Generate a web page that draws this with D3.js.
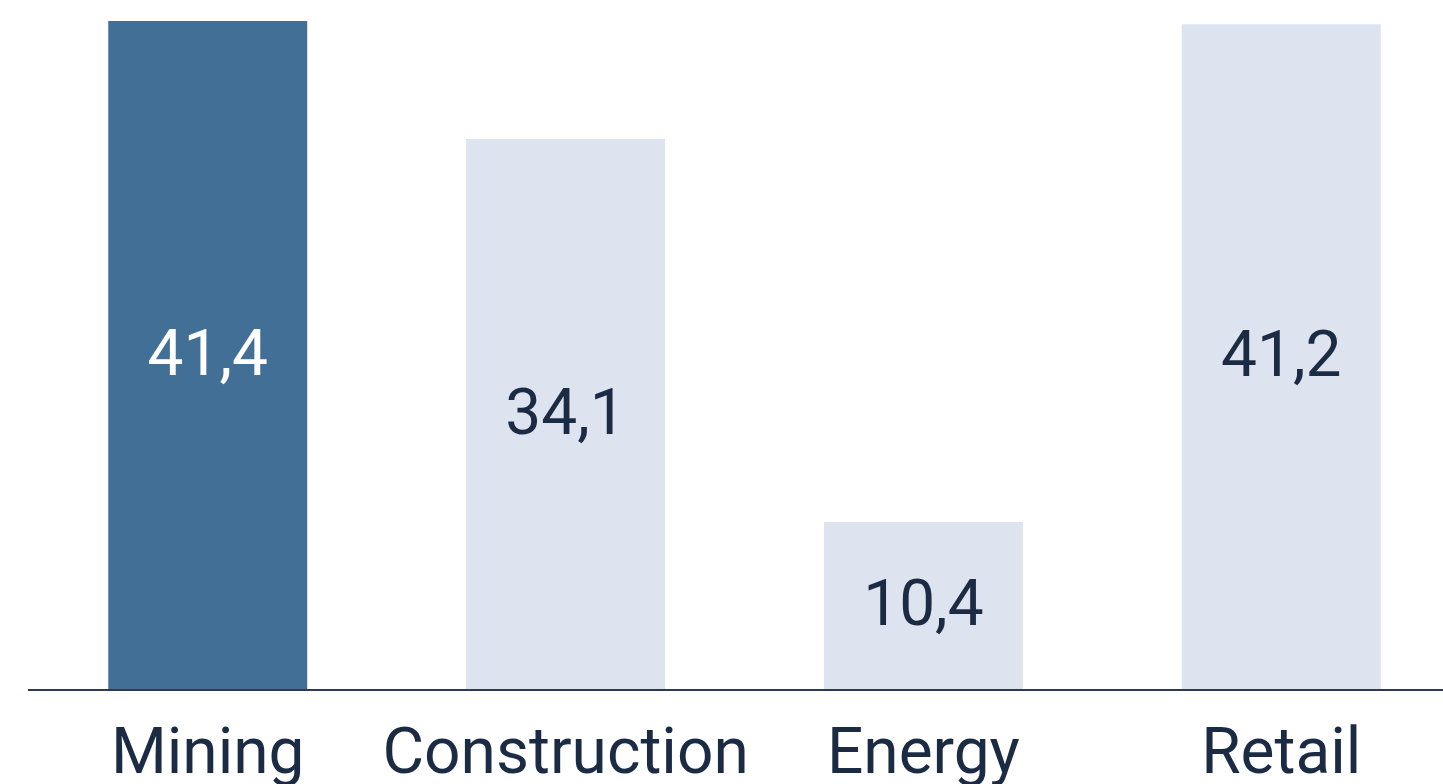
<!DOCTYPE html>
<html>
<head>
<meta charset="utf-8">
<script src="https://cdn.jsdelivr.net/npm/d3@7"></script>
<style>
  html, body { margin: 0; padding: 0; background: #fff; }
  svg { display: block; }
</style>
</head>
<body>
<div id="chart"></div>
<script>
let categories = ['Mining', 'Construction', 'Energy', 'Retail'];
let values = [41.4, 34.1, 10.4, 41.2];
let highlighted = ['Mining'];

let width = 1443, height = 784;
let margin = {top: 21, bottom: 94};
let baseline = height - margin.bottom;

let svg = d3.select('#chart').append('svg')
  .attr('width', width).attr('height', height);

let xScale = d3.scaleBand()
  .domain(categories)
  .range([51, 1438])
  .paddingInner(0.444)
  .paddingOuter(0.16);

let yScale = d3.scaleLinear()
  .domain([0, d3.max(values)])
  .range([baseline, margin.top]);

let fmt = v => d3.format('.1f')(v).replace('.', ',');

let data = categories.map((c, i) => ({cat: c, val: values[i]}));

let bars = svg.selectAll('.bar').data(data).enter()
  .append('g').attr('class', 'bar');

bars.append('rect')
  .attr('x', d => xScale(d.cat))
  .attr('y', d => yScale(d.val))
  .attr('width', xScale.bandwidth())
  .attr('height', d => baseline - yScale(d.val))
  .attr('fill', d => highlighted.includes(d.cat) ? '#426f96' : '#dde4ef');

bars.append('text')
  .attr('x', d => xScale(d.cat) + xScale.bandwidth() / 2)
  .attr('y', d => (yScale(d.val) + baseline) / 2)
  .attr('dy', '0.3em')
  .attr('text-anchor', 'middle')
  .attr('font-family', 'Roboto, sans-serif')
  .attr('font-size', 64)
  .attr('fill', d => highlighted.includes(d.cat) ? '#ffffff' : '#1c2b44')
  .text(d => fmt(d.val));

// baseline axis
let xAxis = d3.axisBottom(xScale).tickSize(0).tickPadding(0);
let axisG = svg.append('g')
  .attr('transform', 'translate(0,' + baseline + ')')
  .call(xAxis);
axisG.select('.domain').remove();
axisG.append('line')
  .attr('x1', 28).attr('x2', width)
  .attr('stroke', '#2d3a4f').attr('stroke-width', 2);
axisG.selectAll('.tick text')
  .attr('y', 83)
  .attr('dy', 0)
  .attr('font-family', 'Roboto, sans-serif')
  .attr('font-size', 64)
  .attr('fill', '#1c2b44');
</script>
</body>
</html>
